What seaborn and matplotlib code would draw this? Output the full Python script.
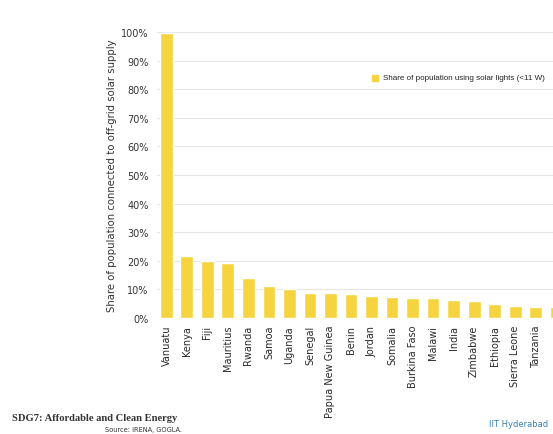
import pandas as pd
import matplotlib.pyplot as plt
import seaborn as sns

# values (share of population, %)
countries = ['Vanuatu', 'Kenya', 'Fiji', 'Mauritius', 'Rwanda', 'Samoa', 'Uganda',
             'Senegal', 'Papua New Guinea', 'Benin', 'Jordan', 'Somalia',
             'Burkina Faso', 'Malawi', 'India', 'Zimbabwe', 'Ethiopia',
             'Sierra Leone', 'Tanzania', 'Mali']
share = [99.6, 21.8, 19.9, 19.4, 14.0, 11.1, 10.1, 8.7, 8.7, 8.3, 7.7, 7.3,
         6.9, 6.9, 6.3, 5.9, 4.9, 4.2, 3.7, 3.7]
yticks = list(range(0, 101, 10))
ytick_labels = [f'{v}%' for v in yticks]

df = pd.DataFrame({'Country': countries, 'Share': share})

yellow = '#F6D440'

sns.set_style('white')
plt.rcParams['font.family'] = ['DejaVu Sans']

fig = plt.figure(figsize=(5.53, 4.35), dpi=100)
ax = fig.add_axes([157 / 553, 116 / 435, 1 - 157 / 553, 286 / 435])

sns.barplot(data=df, x='Country', y='Share', color=yellow, width=0.63,
            saturation=1, ax=ax, zorder=3)

ax.set_xlim(-0.46, 18.85)
ax.set_ylim(0, 100)
ax.set_yticks(yticks)
ax.set_yticklabels(ytick_labels, fontsize=7, color='#333333')
ax.yaxis.grid(True, color='#e6e6e6', linewidth=0.8, zorder=0)
ax.tick_params(axis='both', length=0, pad=6)
ax.tick_params(axis='x', pad=5)
plt.setp(ax.get_xticklabels(), rotation=90, fontsize=7, color='#2a2a2a')
for s in ax.spines.values():
    s.set_visible(False)
ax.set_xlabel('')
ax.set_ylabel('Share of population connected to off-grid solar supply',
              fontsize=7.3, color='#333333', labelpad=3)

# legend
fig.patches.append(plt.Rectangle((372 / 553, 1 - 82 / 435), 6 / 553, 6 / 435,
                                 transform=fig.transFigure, color=yellow,
                                 zorder=5))
fig.text(383 / 553, 1 - 79 / 435,
         'Share of population using solar lights (<11 W)',
         fontsize=5.8, color='#222222', va='center',
         family='Liberation Sans', zorder=5)

# slide footer
fig.text(12 / 553, 1 - 419 / 435, 'SDG7: Affordable and Clean Energy',
         fontsize=7.6, family='Liberation Serif', fontweight='bold',
         color='#333333', va='center')
fig.text(105 / 553, 1 - 430 / 435, 'Source: IRENA, GOGLA.',
         fontsize=4.8, color='#333333', va='center')
fig.text(548 / 553, 1 - 425 / 435, 'IIT Hyderabad',
         fontsize=6, color='#3b7fb3', va='center', ha='right')

fig.savefig('out.png', dpi=100)
